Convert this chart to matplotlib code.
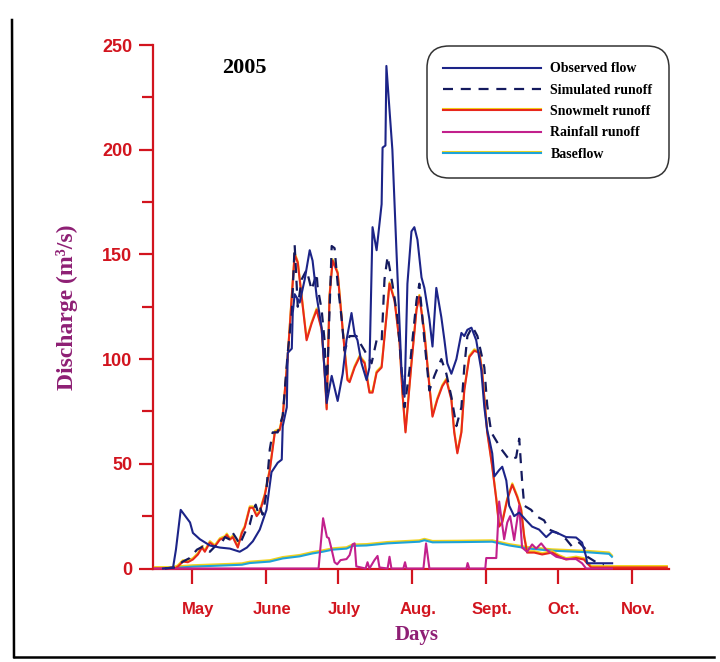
import matplotlib
matplotlib.use("Agg")
import matplotlib.pyplot as plt
import matplotlib.patheffects as pe
import matplotlib.transforms as mtransforms
from matplotlib.lines import Line2D

obs_day = [108.7, 112.9, 114.1, 116.1, 120.0, 121.2, 124.1, 128.3, 132.5, 136.7,
           140.8, 143.8, 146.3, 149.2, 152.0, 154.1, 156.7, 158.4, 158.8, 160.5,
           160.9, 162.6, 163.0, 163.8, 165.9, 168.0, 170.1, 171.3, 173.0, 175.1,
           177.2, 179.3, 181.8, 183.9, 185.5, 187.6, 188.9, 190.1, 191.8, 193.9,
           195.1, 196.4, 198.1, 200.2, 200.6, 201.8, 202.2, 203.5, 204.7, 206.4,
           208.5, 209.8, 211.0, 212.7, 213.9, 215.2, 216.9, 218.1, 220.2, 221.5,
           223.1, 225.2, 226.5, 227.7, 229.4, 231.5, 233.6, 234.8, 236.1, 237.8,
           239.8, 241.9, 243.2, 244.4, 245.3, 246.5, 247.4, 249.4, 250.7, 252.4,
           253.6, 255.7, 257.8, 260.7, 263.2, 266.1, 269.1, 271.6, 273.7, 277.4,
           281.6, 284.1, 285.8, 286.2, 296.7]
obs_val = [0, 0.5, 9, 28, 22, 17, 14, 11, 10, 9.5,
           8, 10, 13, 18.6, 28, 46, 50.5, 52, 68, 77,
           103, 105, 122, 131, 127, 138, 152, 147, 130, 115,
           79, 92, 80, 93, 109, 122, 112, 109, 98, 90,
           96, 163, 152, 174, 201, 202, 240, 219, 200, 152,
           95, 82, 136, 161, 163, 157, 139, 134, 119, 106,
           134, 120, 109, 98, 93, 100, 112.5, 111, 114, 115,
           109, 95, 77, 66, 61.5, 55, 44, 47, 48.6, 42,
           30, 25, 26.7, 23, 20, 18.6, 15, 17.6, 17, 15,
           14.8, 12.4, 5.7, 2.5, 2.5]

sim_day = [109.5, 113.7, 117.0, 119.9, 122.9, 125.4, 128.3, 130.4, 133.3, 134.6,
           136.7, 137.9, 139.6, 140.8, 142.9, 145.0, 146.3, 147.5, 148.4, 149.2,
           150.4, 151.7, 153.4, 154.6, 156.7, 158.8, 160.9, 162.6, 163.8, 165.1,
           166.7, 168.8, 170.9, 173.0, 173.4, 175.1, 176.3, 177.2, 179.3, 180.5,
           181.8, 183.4, 184.7, 186.8, 189.7, 191.0, 193.1, 196.0, 198.1, 200.2,
           201.4, 202.7, 204.7, 206.8, 208.5, 209.8, 211.9, 213.1, 214.8, 216.0,
           218.1, 220.2, 222.3, 225.2, 227.3, 229.4, 231.5, 233.6, 234.8, 236.1,
           238.2, 240.3, 243.2, 244.4, 246.1, 250.3, 253.6, 256.5, 257.8, 259.0,
           259.9, 262.8, 264.9, 268.2, 270.3, 273.7, 277.4, 279.9, 282.9, 285.8,
           286.2, 290.0, 293.3]
sim_val = [0, 0.5, 3.3, 5, 9, 10.5, 8, 10.5, 12.4, 15,
           13.8, 17, 14, 11.4, 17, 21, 27, 30.5, 27, 29.6,
           25.7, 34, 57, 65, 65, 73, 103, 122, 154.5, 125,
           138, 142.6, 133, 141, 134.5, 123.5, 109, 82, 154, 153,
           136, 120, 104, 111, 111, 108, 104, 98, 109, 108,
           138, 149, 136, 120, 96, 77, 95, 109, 128, 136,
           109, 85, 92, 100, 93, 82, 68, 77, 96, 111,
           115.5, 111, 96, 78, 65, 57, 52, 53, 62, 42,
           30, 28, 25, 23, 18.6, 17, 14, 10.5, 12.4, 9,
           5.7, 3, 2]

snow_day = [105.3, 113.7, 115.0, 117.0, 119.1, 121.2, 123.3, 125.0, 126.2, 128.3, 130.4,
            132.5, 134.6, 135.4, 136.7, 137.9, 140.0, 141.7, 142.9, 145.0, 146.3,
            147.9, 149.2, 151.3, 153.4, 155.5, 157.5, 158.8, 160.9, 162.6, 163.8,
            165.1, 167.2, 168.8, 170.9, 173.0, 175.1, 176.3, 177.2, 178.4, 179.7,
            181.8, 183.9, 185.9, 186.8, 188.9, 191.0, 193.1, 195.1, 196.4, 198.1,
            200.2, 202.2, 203.5, 205.6, 207.7, 208.9, 210.2, 212.7, 214.8, 216.0,
            218.1, 220.2, 221.5, 223.5, 225.6, 227.3, 229.4, 230.6, 231.9, 233.6,
            234.8, 236.9, 239.0, 241.1, 242.3, 244.4, 246.5, 248.2, 249.4, 250.7,
            252.8, 254.9, 257.0, 258.6, 259.9, 261.1, 264.1, 267.4, 271.6, 274.5,
            277.4, 281.6, 284.9, 285.8, 287.9, 319.6]
snow_val = [0, 0, 1, 3.3, 3, 4.3, 6.7, 10, 8, 12.4, 10.5,
            13.8, 14.8, 16, 13.8, 15, 10, 17, 19.6, 29, 29,
            25, 27, 35, 47, 65, 66, 72.5, 101, 130, 150,
            146, 125, 109, 117, 123.5, 114, 95, 76, 130, 147,
            141, 114, 90, 89, 96, 101, 98, 84, 84, 93.5,
            96, 120, 136, 128, 108, 84, 65, 98, 123.5, 130,
            112.5, 87, 72.5, 80.6, 87, 90, 80.6, 65, 55, 65,
            85, 101, 104, 103, 93.5, 65, 48.6, 33, 20, 22,
            33, 40, 34, 28, 15, 7.6, 7.6, 6.7, 7.6, 5.7,
            4.3, 5, 4.3, 3, 0.5, 0.5]

rain_day = [105.3, 173.8, 175.7, 177.3, 178.1, 179.3, 180.5, 181.6, 183.0, 185.5,
            186.8, 188.0, 188.9, 189.6, 193.5, 194.3, 195.1, 197.2, 198.5, 199.3,
            202.7, 203.5, 204.3, 209.3, 210.0, 210.6, 217.7, 218.8, 220.2, 235.7,
            236.2, 236.9, 243.6, 244.0, 248.2, 249.4, 251.5, 252.8, 254.0, 255.7,
            257.8, 259.0, 261.1, 263.2, 264.9, 267.0, 269.1, 273.3, 277.4, 281.6,
            284.1, 285.8, 296.6]
rain_val = [0, 0, 24, 15, 14.5, 9, 3, 2, 4, 4.5,
            6.4, 11.5, 12, 1, 0, 3, 0, 4, 6, 0.5,
            0, 5.6, 0, 0, 3, 0, 0, 12, 0, 0,
            2.6, 0, 0, 5, 5, 32, 14, 22, 25, 13.6,
            30, 10, 8, 11.5, 9.5, 12, 9, 5.6, 4.5, 4.5,
            2.5, 0, 0]

base_day = [113.7, 121.2, 128.3, 135.4, 141.7, 145.0, 153.4, 158.8, 165.9, 171.3,
            175.5, 179.7, 185.5, 188.0, 193.9, 202.7, 207.7, 216.0, 218.1, 221.5,
            232.7, 246.5, 253.6, 262.0, 271.6, 285.8, 295.4, 296.6]
base_val = [0.3, 0.9, 1.2, 1.5, 1.8, 2.6, 3.3, 4.8, 5.8, 7.2,
            8, 9, 9.5, 10.8, 11, 12, 12.3, 12.8, 13.5, 12.5,
            12.6, 12.8, 11, 9.5, 8.5, 7.8, 7, 5.6]

month_days = [121, 152, 182, 213, 244, 274, 305]
month_labels = ["May", "June", "July", "Aug.", "Sept.", "Oct.", "Nov."]

AXIS_RED = "#d2141e"
PURPLE = "#8e1f74"
NAVY = "#1c2488"
SERIF = "Liberation Serif"
SANS = "Liberation Sans"

fig = plt.figure(figsize=(7.2, 6.62), dpi=100)
ax = fig.add_axes([153 / 720, 1 - 568.5 / 662, 516 / 720, 523.5 / 662])

yellow_edge = [pe.SimpleLineShadow(offset=(0, 1.0), shadow_color="#f2d21b", alpha=1.0), pe.Normal()]

ax.plot(base_day, base_val, color="#1ea3d8", lw=1.5, path_effects=yellow_edge,
        clip_on=False, label="Baseflow", zorder=2)
ax.plot(snow_day, snow_val, color="#e8281c", lw=1.5, path_effects=yellow_edge,
        clip_on=False, label="Snowmelt runoff", zorder=3)
ax.plot(rain_day, rain_val, color="#c2208c", lw=1.5, clip_on=False,
        label="Rainfall runoff", zorder=4)
ax.plot(sim_day, sim_val, color="#141a5e", lw=1.6, dashes=(4.5, 3.5), clip_on=False,
        label="Simulated runoff", zorder=5)
ax.plot(obs_day, obs_val, color=NAVY, lw=1.5, clip_on=False,
        label="Observed flow", zorder=6)

ax.set_xlim(104.5, 320.5)
ax.set_ylim(0, 250)

for side in ["top", "right"]:
    ax.spines[side].set_visible(False)
for side in ["left", "bottom"]:
    ax.spines[side].set_color(AXIS_RED)
    ax.spines[side].set_linewidth(1.6)

ax.set_yticks(range(0, 251, 50))
ax.set_yticks(range(25, 250, 50), minor=True)
ax.tick_params(axis="y", which="major", direction="out", length=10, width=1.6,
               color=AXIS_RED, labelcolor=AXIS_RED, labelsize=13, pad=5)
ax.tick_params(axis="y", which="minor", direction="out", length=8, width=1.6, color=AXIS_RED)

ax.set_xticks(month_days)
ax.set_xticklabels(month_labels)
ax.tick_params(axis="x", direction="out", length=11, width=1.6, color=AXIS_RED,
               labelcolor=AXIS_RED, labelsize=12, pad=13)
shift = mtransforms.ScaledTranslation(6 / 100, 0, fig.dpi_scale_trans)
for lab in ax.get_xticklabels() + ax.get_yticklabels():
    lab.set_fontfamily(SANS)
    lab.set_fontweight("bold")
for lab in ax.get_xticklabels():
    lab.set_transform(lab.get_transform() + shift)

ax.set_ylabel("Discharge (m³/s)", fontsize=17, fontweight="bold", family=SERIF, color=PURPLE)
ax.yaxis.set_label_coords(-0.145, 0.5)
ax.set_xlabel("Days", fontsize=15, fontweight="bold", family=SERIF, color=PURPLE)
ax.xaxis.set_label_coords(0.51, -0.108)

ax.text(0.178, 0.956, "2005", transform=ax.transAxes, ha="center", va="center",
        fontsize=16, fontweight="bold", family=SERIF)

handles, labels = ax.get_legend_handles_labels()
order = [4, 3, 1, 2, 0]
leg = ax.legend([handles[i] for i in order], [labels[i] for i in order],
                loc="upper right", bbox_to_anchor=(665 / 720, 1 - 50 / 662),
                bbox_transform=fig.transFigure, borderaxespad=0,
                prop={"family": SERIF, "weight": "bold", "size": 10},
                handlelength=7.0, handletextpad=0.7, labelspacing=0.6,
                borderpad=0.9, fancybox=True, framealpha=1)
leg.get_frame().set_edgecolor("#333333")
leg.get_frame().set_linewidth(1.1)
leg.get_frame().set_boxstyle("round", pad=0.3, rounding_size=1.6)

# scanned page border
fig.add_artist(Line2D([12 / 720, 14 / 720], [1 - 20 / 662, 1 - 657 / 662],
                      transform=fig.transFigure, color="black", lw=1.8))
fig.add_artist(Line2D([14 / 720, 714 / 720], [1 - 657 / 662, 1 - 657 / 662],
                      transform=fig.transFigure, color="black", lw=1.8))

fig.savefig("out.png", dpi=100, facecolor="white")
